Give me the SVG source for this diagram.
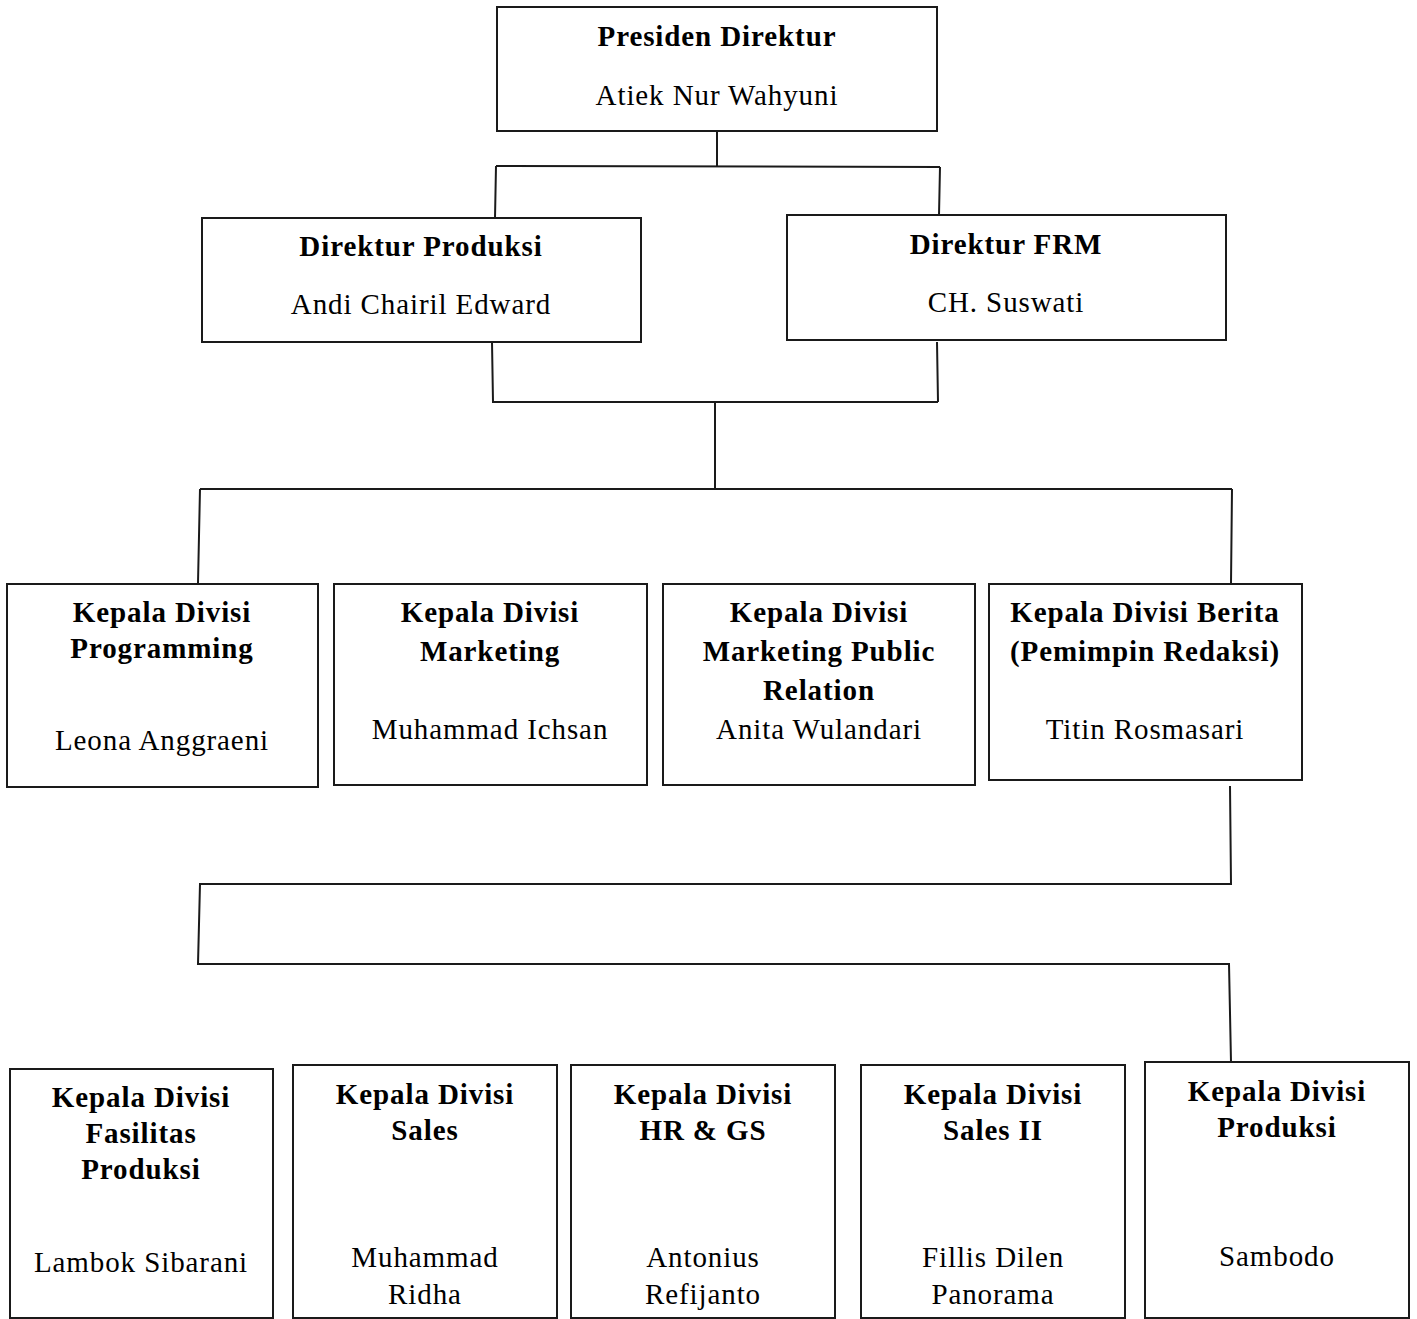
<svg xmlns="http://www.w3.org/2000/svg" width="1417" height="1319" viewBox="0 0 1417 1319">
<style>
.box{fill:#fff;stroke:#1a1a1a;stroke-width:2}
.b{font-family:"Liberation Serif","Times New Roman",serif;font-weight:bold;font-size:29px;letter-spacing:0.9px;fill:#000;text-anchor:middle}
.r{font-family:"Liberation Serif","Times New Roman",serif;font-size:29px;letter-spacing:0.9px;fill:#000;text-anchor:middle}
.c{fill:none;stroke:#1a1a1a;stroke-width:2}
</style>
<rect width="1417" height="1319" fill="#fff"/>
<g id="connectors">
<path class="c" d="M717,131 L717,166 M496,166 L940,167 M496,166 L495,218 M940,167 L939,215"/>
<path class="c" d="M492,342 L493,402 L938,402 M937,342 L938,402 M715,402 L715,489 M200,489 L1232,489 M200,489 L198,583 M1232,489 L1231,583"/>
<path class="c" d="M1230,786 L1231,884 L200,884 L198,964 L1229,964 L1231,1062"/>
</g>
<g id="n1"><rect class="box" x="497" y="7" width="440" height="124"/><text class="b" x="717" y="46">Presiden Direktur</text><text class="r" x="717" y="105">Atiek Nur Wahyuni</text></g>
<g id="n2"><rect class="box" x="202" y="218" width="439" height="124"/><text class="b" x="421" y="256">Direktur Produksi</text><text class="r" x="421" y="314">Andi Chairil Edward</text></g>
<g id="n3"><rect class="box" x="787" y="215" width="439" height="125"/><text class="b" x="1006" y="254">Direktur FRM</text><text class="r" x="1006" y="312">CH. Suswati</text></g>
<g id="n4"><rect class="box" x="7" y="584" width="311" height="203"/><text class="b" x="162" y="622">Kepala Divisi</text><text class="b" x="162" y="658">Programming</text><text class="r" x="162" y="750">Leona Anggraeni</text></g>
<g id="n5"><rect class="box" x="334" y="584" width="313" height="201"/><text class="b" x="490" y="622">Kepala Divisi</text><text class="b" x="490" y="661">Marketing</text><text class="r" x="490" y="739">Muhammad Ichsan</text></g>
<g id="n6"><rect class="box" x="663" y="584" width="312" height="201"/><text class="b" x="819" y="622">Kepala Divisi</text><text class="b" x="819" y="661">Marketing Public</text><text class="b" x="819" y="700">Relation</text><text class="r" x="819" y="739">Anita Wulandari</text></g>
<g id="n7"><rect class="box" x="989" y="584" width="313" height="196"/><text class="b" x="1145" y="622">Kepala Divisi Berita</text><text class="b" x="1145" y="661">(Pemimpin Redaksi)</text><text class="r" x="1145" y="739">Titin Rosmasari</text></g>
<g id="n8"><rect class="box" x="10" y="1069" width="263" height="249"/><text class="b" x="141" y="1107">Kepala Divisi</text><text class="b" x="141" y="1143">Fasilitas</text><text class="b" x="141" y="1179">Produksi</text><text class="r" x="141" y="1272">Lambok Sibarani</text></g>
<g id="n9"><rect class="box" x="293" y="1065" width="264" height="253"/><text class="b" x="425" y="1104">Kepala Divisi</text><text class="b" x="425" y="1140">Sales</text><text class="r" x="425" y="1267">Muhammad</text><text class="r" x="425" y="1304">Ridha</text></g>
<g id="n10"><rect class="box" x="571" y="1065" width="264" height="253"/><text class="b" x="703" y="1104">Kepala Divisi</text><text class="b" x="703" y="1140">HR &amp; GS</text><text class="r" x="703" y="1267">Antonius</text><text class="r" x="703" y="1304">Refijanto</text></g>
<g id="n11"><rect class="box" x="861" y="1065" width="264" height="253"/><text class="b" x="993" y="1104">Kepala Divisi</text><text class="b" x="993" y="1140">Sales II</text><text class="r" x="993" y="1267">Fillis Dilen</text><text class="r" x="993" y="1304">Panorama</text></g>
<g id="n12"><rect class="box" x="1145" y="1062" width="264" height="256"/><text class="b" x="1277" y="1101">Kepala Divisi</text><text class="b" x="1277" y="1137">Produksi</text><text class="r" x="1277" y="1266">Sambodo</text></g>
</svg>
